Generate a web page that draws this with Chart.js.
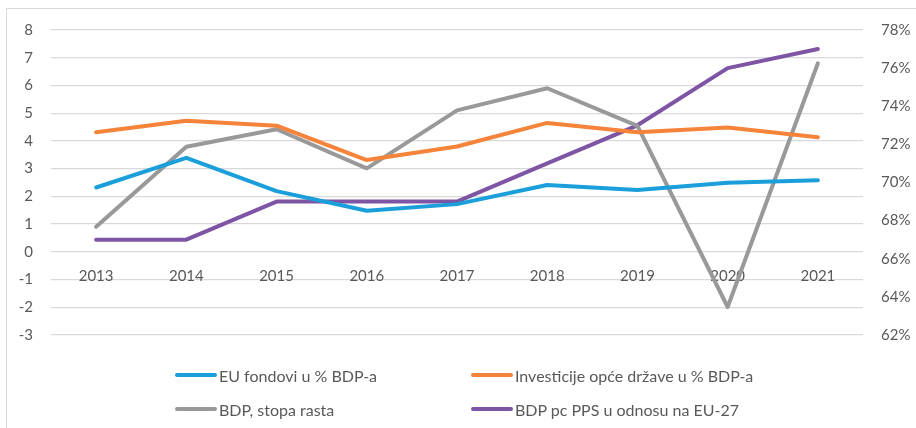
<!DOCTYPE html>
<html>
<head>
<meta charset="utf-8">
<script src="https://cdn.jsdelivr.net/npm/chart.js@4.4.1/dist/chart.umd.min.js"></script>
<style>
  html, body { margin: 0; padding: 0; background: #fff; }
  #wrap { position: relative; width: 916px; height: 428px; overflow: hidden; font-family: Lato, sans-serif; }
  #frame { position: absolute; left: 6px; top: 8px; width: 1000px; height: 1000px; border: 1px solid #d9d9d9; box-sizing: border-box; }
  canvas { position: absolute; left: 0; top: 0; }
  .leg { position: absolute; display: flex; align-items: center; height: 20px; font-size: 16px; color: #595959; white-space: nowrap; }
  .leg .ln { display: inline-block; width: 42px; height: 4px; border-radius: 2px; margin-right: 2px; }
</style>
</head>
<body>
<div id="wrap">
  <div id="frame"></div>
  <canvas id="chart" width="916" height="428"></canvas>
  <div id="legend"></div>
</div>
<script>
// categories
const years = ['2013', '2014', '2015', '2016', '2017', '2018', '2019', '2020', '2021'];

// series (left axis, %)
const euFunds = [2.32, 3.39, 2.19, 1.48, 1.72, 2.41, 2.23, 2.49, 2.58];
const govInvest = [4.31, 4.73, 4.55, 3.31, 3.8, 4.65, 4.31, 4.48, 4.13];
const gdpGrowth = [0.9, 3.79, 4.42, 3.01, 5.1, 5.9, 4.54, -1.99, 6.8];
// series (right axis, % of EU-27)
const gdpPpsEu = [67, 67, 69, 69, 69, 71, 73, 76, 77];

const seriesNames = [
  'EU fondovi u % BDP-a',
  'Investicije opće države u % BDP-a',
  'BDP, stopa rasta',
  'BDP pc PPS u odnosu na EU-27'
];
const colors = ['#1a9fdb', '#f5843a', '#999999', '#7e55a4'];

const txt = '#595959';
const font = { family: 'Lato, sans-serif', size: 15 };

function line(label, data, color, axis) {
  return {
    label: label,
    data: data,
    borderColor: color,
    backgroundColor: color,
    borderWidth: 4,
    pointRadius: 0,
    tension: 0,
    yAxisID: axis,
    borderJoinStyle: 'round',
    borderCapStyle: 'round'
  };
}

const ctx = document.getElementById('chart').getContext('2d');
new Chart(ctx, {
  type: 'line',
  data: {
    labels: years,
    datasets: [
      line(seriesNames[0], euFunds, colors[0], 'y'),
      line(seriesNames[1], govInvest, colors[1], 'y'),
      line(seriesNames[2], gdpGrowth, colors[2], 'y'),
      line(seriesNames[3], gdpPpsEu, colors[3], 'y1')
    ]
  },
  options: {
    responsive: false,
    animation: false,
    layout: { padding: { top: 30, bottom: 93, left: 0, right: 0 } },
    plugins: { legend: { display: false }, tooltip: { enabled: false } },
    scales: {
      x: {
        position: { y: 0 },
        offset: true,
        grid: { display: false, drawTicks: false },
        border: { display: false },
        ticks: { color: txt, font: font, padding: 15, maxRotation: 0 }
      },
      y: {
        position: 'left',
        min: -3,
        max: 8,
        ticks: { stepSize: 1, color: txt, font: font, padding: 18 },
        grid: { color: '#d9d9d9', lineWidth: 1.3, drawTicks: false },
        border: { display: false },
        afterFit: function (s) { s.width = 51; }
      },
      y1: {
        position: 'right',
        min: 62,
        max: 78,
        ticks: {
          stepSize: 2, color: txt, font: font, padding: 18,
          callback: function (v) { return v + '%'; }
        },
        grid: { display: false, drawTicks: false },
        border: { display: false },
        afterFit: function (s) { s.width = 53; }
      }
    }
  }
});

// legend, two columns like the original
const legend = document.getElementById('legend');
const legPos = [[175, 365], [471, 365], [175, 399], [471, 399]];
seriesNames.forEach(function (name, i) {
  const d = document.createElement('div');
  d.className = 'leg';
  d.style.left = legPos[i][0] + 'px';
  d.style.top = legPos[i][1] + 'px';
  d.innerHTML = '<span class="ln" style="background:' + colors[i] + '"></span>' + name;
  legend.appendChild(d);
});
</script>
</body>
</html>
